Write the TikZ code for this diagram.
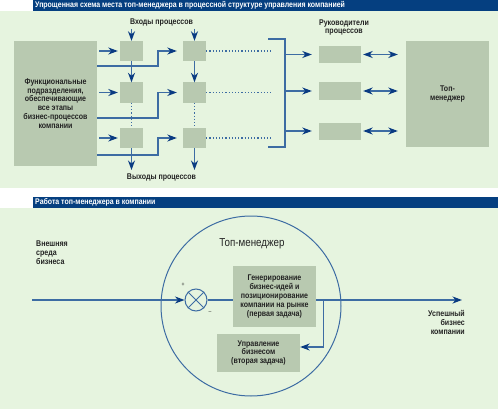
\documentclass[tikz,border=0pt]{standalone}
\usepackage{fontspec}
\setmainfont{Liberation Sans}[FakeStretch=0.85]
\usetikzlibrary{arrows.meta,calc}
\definecolor{bggreen}{HTML}{E6F4DF}
\definecolor{boxgreen}{HTML}{B8C9B0}
\definecolor{barblue}{HTML}{053F80}
\definecolor{lineblue}{HTML}{3D6CA3}
\definecolor{tipblue}{HTML}{0A3B82}
\definecolor{txt}{HTML}{222222}

\begin{document}
\begin{tikzpicture}[x=1pt,y=-1pt,inner sep=0pt,
	lbl/.style={font=\fontsize{8.3}{8.8}\selectfont\bfseries,text=txt,align=center},
	ttl/.style={font=\fontsize{8.2}{8.5}\selectfont\bfseries,text=white,anchor=west},
	blk/.style={fill=boxgreen,draw=none},
	cell/.style={blk,minimum width=23,minimum height=20},
	mgr/.style={blk,minimum width=42,minimum height=17},
	link/.style={draw=lineblue,line width=1.1pt},
	flow/.style={link,-{Stealth[length=9.5pt,width=7pt,inset=3pt,color=tipblue]}},
	dflow/.style={link,{Stealth[length=9.5pt,width=7pt,inset=3pt,color=tipblue]}-{Stealth[length=9.5pt,width=7pt,inset=3pt,color=tipblue]}},
	dots/.style={draw=lineblue,line width=1.2pt,dotted},
	brk/.style={draw=lineblue,line width=1.5pt}]

	\useasboundingbox (0,0) rectangle (498,412);

	% panels and title bars
	\fill[bggreen] (0,11) rectangle (498,188);
	\fill[bggreen] (0,208) rectangle (498,409);
	\fill[barblue] (33,0) rectangle (498,11);
	\fill[barblue] (33,197) rectangle (498,208);
	\node[ttl] (t1) at (35,5.5) {Упрощенная схема места топ-менеджера в процессной структуре управления компанией};
	\node[ttl] (t2) at (35,202.5) {Работа топ-менеджера в компании};

	% upper scheme
	\node[blk,lbl,minimum width=83,minimum height=125] (fun) at (55.5,103.5) {Функциональные\\подразделения,\\обеспечивающие\\все этапы\\бизнес-процессов\\компании};
	\node[blk,lbl,minimum width=83,minimum height=106] (top) at (447.5,94) {Топ-\\менеджер};
	\node[lbl] (in lbl) at (161.5,23) {Входы процессов};
	\node[lbl] (out lbl) at (161.5,178) {Выходы процессов};
	\node[lbl] (mgr lbl) at (344,27.5) {Руководители\\процессов};

	\foreach \r/\y in {1/51,2/92.5,3/138}{
		\node[cell] (a\r) at (131.5,\y) {};
		\node[cell] (b\r) at (194.5,\y) {};
		\coordinate (d\r) at (273,\y);
		\draw[flow,shorten <=2pt,shorten >=2pt] (fun.east |- a\r) -- (a\r);
		\draw[dots] (b\r) -- (d\r);
	}

	\foreach \r/\e in {1/66,2/118,3/155}{
		\draw[flow,shorten >=6pt] (fun.east |- 0,\e) -- (158,\e) |- (b\r);
	}

	\coordinate (i1) at (131.5,29);
	\coordinate (i2) at (194.5,29);
	\coordinate (o1) at (131.5,170);
	\coordinate (o2) at (194.5,170);
	\draw[flow] (i1) -- (a1);
	\draw[flow] (i2) -- (b1);
	\draw[flow] (a1) -- (a2);
	\draw[flow] (b1) -- (b2);
	\draw[dots] (a2) -- (a3);
	\draw[dots] (b2) -- (b3);
	\draw[flow] (a3) -- (o1);
	\draw[flow] (b3) -- (o2);

	\draw[brk] (268,39) -- (285,39) -- (285,147) -- (268,147);

	\foreach \r/\y in {1/54.5,2/91,3/131}{
		\node[mgr] (m\r) at (340,\y) {};
		\draw[flow,shorten >=7pt] (285,\y) -- (m\r);
		\draw[dflow,shorten <=2pt,shorten >=8pt] (m\r.east) -- (m\r.east -| top.west);
	}

	% lower scheme
	\node[circle,draw=lineblue,line width=1pt,minimum size=180] (tm) at (251,306) {};
	\node[font=\fontsize{11.5}{12}\selectfont,text=txt] (tm lbl) at (252,244) {Топ-менеджер};
	\node[lbl,align=left,anchor=north west] (env lbl) at (36,240.5) {Внешняя\\среда\\бизнеса};
	\node[lbl,align=right,anchor=north east] (succ lbl) at (465,310.5) {Успешный\\бизнес\\компании};

	\node[blk,lbl,minimum width=83,minimum height=61] (gen) at (274.5,296.5) {Генерирование\\бизнес-идей и\\позиционирование\\компании на рынке\\(первая задача)};
	\node[blk,lbl,minimum width=83,minimum height=38] (ctl) at (258.5,353) {Управление\\бизнесом\\(вторая задача)};

	\node[circle,draw=lineblue,line width=1pt,minimum size=22] (sum) at (196,300) {};
	\draw[lineblue,line width=1pt] (sum.north west) -- (sum.south east) (sum.north east) -- (sum.south west);
	\node[font=\fontsize{6}{6}\selectfont,text=txt] (plus) at (183,285) {+};
	\node[font=\fontsize{6}{6}\selectfont,text=txt] (minus) at (210,313) {--};

	\coordinate (env) at (32,300);
	\coordinate (succ) at (462,300);
	\draw[flow] (env) -- (sum);
	\draw[link] (sum) -- (sum -| gen.west);
	\draw[flow] (gen.east |- sum) -- (succ);
	\draw[flow] ($(gen.east |- sum)+(7,0)$) |- ($(ctl.east)+(0,-6)$);

\end{tikzpicture}
\end{document}
